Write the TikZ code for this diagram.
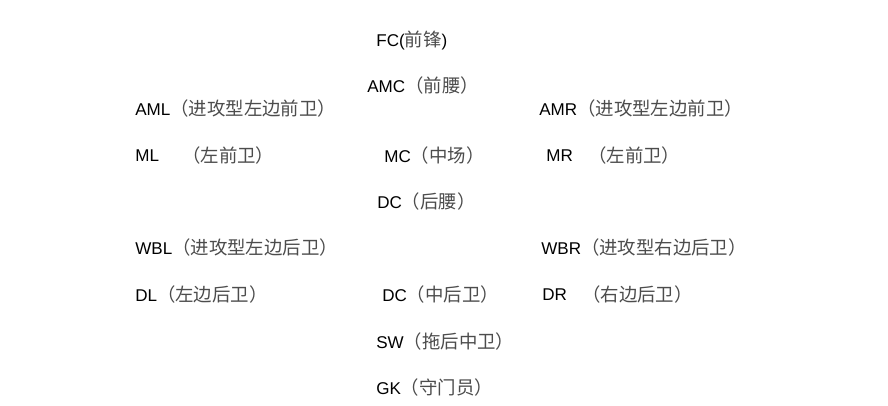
\documentclass[tikz,border=0pt]{standalone}
\usepackage{fontspec}
\setmainfont{Liberation Sans}
\newfontfamily\cjk[Scale=1.08]{Noto Sans CJK SC}
\usepackage{tikz}
\usetikzlibrary{positioning}

\tikzset{
    player/.style={anchor=west, inner sep=0pt, font=\fontsize{9.7}{11}\selectfont}
}
\newcommand{\zh}[1]{{\cjk\color{black!70}#1}}

\begin{document}
\begin{tikzpicture}[x=0.2mm, y=-0.2mm]
                \useasboundingbox[fill=white] (0,0) rectangle (888,406);

                \node[player] (fc) at (376, 40) {FC(\zh{前锋})};
                \node[player] (amc) at (367, 86) {AMC\zh{（前腰）}};
                \node[player] (aml) at (135, 109) {AML\zh{（进攻型左边前卫）}};
                \node[player] (amr) at (539, 109) {AMR\zh{（进攻型左边前卫）}};

                \node[player] (ml) at (135, 156) {ML};
                \node[player] (ml cn) at (182, 156) {\zh{（左前卫）}};
                \node[player] (mc) at (384, 156) {MC\zh{（中场）}};
                \node[player] (mr) at (546, 156) {MR};
                \node[player] (mr cn) at (588, 156) {\zh{（左前卫）}};

                \node[player] (dm) at (377, 202) {DC\zh{（后腰）}};
                \node[player] (wbl) at (135, 248) {WBL\zh{（进攻型左边后卫）}};
                \node[player] (wbr) at (541, 248) {WBR\zh{（进攻型右边后卫）}};

                \node[player] (dl) at (135, 295) {DL\zh{（左边后卫）}};
                \node[player] (dc) at (382, 295) {DC\zh{（中后卫）}};
                \node[player] (dr) at (542, 295) {DR};
                \node[player] (dr cn) at (582, 295) {\zh{（右边后卫）}};

                \node[player] (sw) at (376, 342) {SW\zh{（拖后中卫）}};
                \node[player] (gk) at (376, 388) {GK\zh{（守门员）}};
            \end{tikzpicture}
\end{document}
